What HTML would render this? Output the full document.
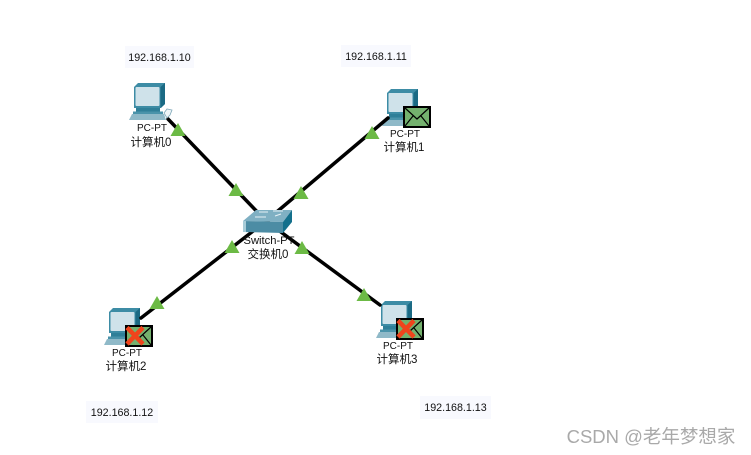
<!DOCTYPE html>
<html><head><meta charset="utf-8">
<style>
html,body{margin:0;padding:0;background:#fff}
body{width:751px;height:455px;overflow:hidden;position:relative}
svg{position:absolute;left:0;top:0}
text{font-family:"Liberation Sans","Noto Sans CJK SC",sans-serif;font-size:10px;fill:#111;text-anchor:middle}
.ip{font-size:10.7px}
.cn{font-size:11.5px}
</style></head><body>
<svg width="751" height="455" viewBox="0 0 751 455" xmlns="http://www.w3.org/2000/svg">
<defs>
<g id="pc">
  <path d="M134 87 L138 83 L165 83 L165 104 L161 108 L134 108Z" fill="#3d8ca5"/>
  <path d="M160.500 87 L165 83 L165 104 L160.500 108Z" fill="#1b6a84"/>
  <rect x="135.500" y="87" width="24" height="19" rx="1" fill="#cfe2ea"/>
  <rect x="136" y="108" width="24" height="3.500" fill="#2f7f98"/>
  <rect x="133" y="111.500" width="30" height="2.500" fill="#4a93aa"/>
  <path d="M132 114 L164 114 L166 120 L129 120Z" fill="#8fb9c8"/>
</g>
<g id="env">
  <rect x="1" y="1" width="26" height="20" fill="#74b16e" stroke="#000" stroke-width="2"/>
  <path d="M2 2 L14 13 L26 2 M2 20 L10 10 M26 20 L18 10" fill="none" stroke="#000" stroke-width="1.200"/>
</g>
<path id="x" d="M3 2.500 L19 19 M19 2.500 L3 19" stroke="#f0441c" stroke-width="4.500" fill="none"/>
<path id="tri" d="M0 -7 L7.500 6 L-7.500 6Z" fill="#6cba45"/>
</defs>

<rect x="125" y="46" width="69" height="22" fill="#f8f9fe"/>
<rect x="341" y="45" width="70" height="22" fill="#f8f9fe"/>
<rect x="86" y="401" width="72" height="22" fill="#f8f9fe"/>
<rect x="420" y="396" width="71" height="23" fill="#f8f9fe"/>
<text class="ip" x="159.500" y="61">192.168.1.10</text>
<text class="ip" x="376" y="60">192.168.1.11</text>
<text class="ip" x="122" y="416">192.168.1.12</text>
<text class="ip" x="455.500" y="411">192.168.1.13</text>

<use href="#pc"/>
<use href="#pc" transform="translate(253,6)"/>
<use href="#pc" transform="translate(-25,225)"/>
<use href="#pc" transform="translate(247,218)"/>

<g stroke="#000" stroke-width="3.500" stroke-linecap="round">
  <line x1="168" y1="119" x2="266" y2="221"/>
  <line x1="388" y1="118" x2="266" y2="221"/>
  <line x1="141" y1="318" x2="266" y2="221"/>
  <line x1="266" y1="221" x2="380" y2="305"/>
</g>

<!-- small cursor by PC0 -->
<path d="M164 113 L167 109 L172 110 L170 115 L167 118Z" fill="#eef5f8" stroke="#7fa8b8" stroke-width="0.800"/>

<!-- switch -->
<path d="M243 221 L256 210 L292 210 L283 222Z" fill="#7fb0c3"/>
<path d="M243 221 L283 222 L283 233 L243 232Z" fill="#4c8ca4"/>
<path d="M283 222 L292 210 L292 222 L283 233Z" fill="#14708c"/>
<path d="M243 221 L246 221 L246 232 L243 232Z" fill="#a8ccd8"/>
<g stroke="#e6f1f5" stroke-width="1" fill="none">
  <path d="M259 212 L268 212 M273 211 L283 211"/>
  <path d="M255 217 L266 217 M275 216 L281 214"/>
</g>

<use href="#tri" x="178" y="130"/>
<use href="#tri" x="236" y="190"/>
<use href="#tri" x="372" y="133"/>
<use href="#tri" x="301" y="193"/>
<use href="#tri" x="157" y="303"/>
<use href="#tri" x="232" y="247"/>
<use href="#tri" x="302" y="248"/>
<use href="#tri" x="364" y="295"/>

<use href="#env" x="403" y="106"/>
<use href="#env" x="125" y="325"/>
<use href="#x" x="124" y="325"/>
<use href="#env" x="396" y="318"/>
<use href="#x" x="395" y="318"/>

<text x="152" y="131">PC-PT</text>
<text class="cn" x="151" y="146">计算机0</text>
<text x="405" y="137">PC-PT</text>
<text class="cn" x="404" y="151">计算机1</text>
<text x="127" y="356">PC-PT</text>
<text class="cn" x="126" y="370">计算机2</text>
<text x="398" y="349">PC-PT</text>
<text class="cn" x="397" y="363">计算机3</text>
<text x="269" y="244" style="font-size:11.2px">Switch-PT</text>
<text class="cn" x="268" y="258">交换机0</text>

<text x="651" y="443" style="font-size:18.500px;fill:#a9a9a9">CSDN @老年梦想家</text>
</svg>
</body></html>
